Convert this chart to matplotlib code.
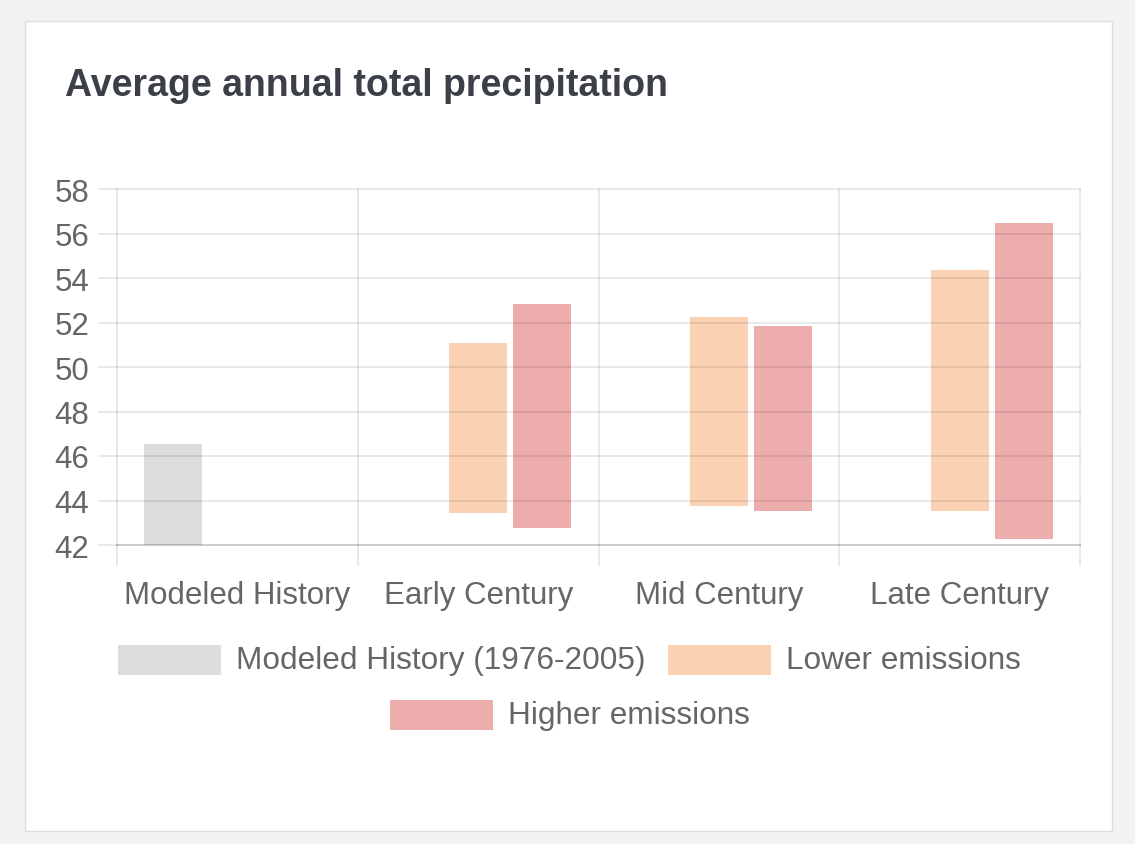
import numpy as np
import matplotlib
matplotlib.use('Agg')
from matplotlib import pyplot as plt
from matplotlib.patches import Rectangle

plt.rcParams['font.family'] = ['Liberation Sans', 'DejaVu Sans']

# data: floating bars (low, high) per period
periods = ['Modeled History', 'Early Century', 'Mid Century', 'Late Century']
history_low = [41.0, None, None, None]
history_high = [46.55, None, None, None]
lower_low = [None, 43.45, 43.75, 43.55]
lower_high = [None, 51.1, 52.25, 54.35]
higher_low = [None, 42.75, 43.55, 42.25]
higher_high = [None, 52.85, 51.85, 56.45]
yticks = [42, 44, 46, 48, 50, 52, 54, 56, 58]

series = [
    ('Modeled History (1976-2005)', history_low, history_high, (0.86, 0.865, 0.875)),
    ('Lower emissions', lower_low, lower_high, (0.98, 0.825, 0.70)),
    ('Higher emissions', higher_low, higher_high, (0.93, 0.68, 0.68)),
]

W, H = 1135, 845
fig = plt.figure(figsize=(W / 100, H / 100), dpi=100)
fig.patch.set_facecolor('#f2f2f2')

# white card behind everything
card = Rectangle((25 / W, 1 - 832 / H), (1112 - 25) / W, (832 - 22) / H,
                 transform=fig.transFigure, facecolor='white',
                 edgecolor='#dddddd', lw=1, zorder=-5)
fig.patches.append(card)

fig.text(65 / W, 1 - 86 / H, 'Average annual total precipitation',
         fontsize=27, fontweight='bold', color='#3b3f47', va='center', ha='left')

ax = fig.add_axes([117 / W, 1 - 546 / H, (1080 - 117) / W, (546 - 190) / H])
ax.set_facecolor('none')

x = np.arange(len(periods))
slot = 64 / 241
width = 58 / 241
for i, (name, lo, hi, col) in enumerate(series):
    xs, bottoms, heights = [], [], []
    for j in range(len(periods)):
        if lo[j] is None:
            continue
        xs.append(x[j] + (i - 1) * slot)
        bottoms.append(lo[j])
        heights.append(hi[j] - lo[j])
    ax.bar(xs, heights, bottom=bottoms, width=width, color=col, zorder=1)

ax.set_xlim(-0.5, len(periods) - 0.5)
ax.set_ylim(42, 58)
ax.set_yticks(yticks)
ax.set_xticks(x)
ax.set_xticklabels(periods)
ax.set_xticks(np.arange(len(periods) + 1) - 0.5, minor=True)

gridc = (0, 0, 0, 0.1)
ax.grid(True, which='major', axis='y', color='k', alpha=0.1, lw=1.2, zorder=2)
ax.grid(True, which='minor', axis='x', color='k', alpha=0.1, lw=1.2, zorder=2)
ax.set_axisbelow(False)
# keep the edge grid lines full width
for gl in ax.get_ygridlines() + ax.xaxis.get_minorticklines():
    gl.set_clip_on(False)
for t in ax.xaxis.get_minor_ticks():
    t.gridline.set_clip_on(False)

# grid lines already frame the plot; only the base line is darker
for s in ['top', 'right', 'left']:
    ax.spines[s].set_visible(False)
ax.spines['bottom'].set_color((0, 0, 0, 0.12))
ax.spines['bottom'].set_linewidth(1.5)

ax.tick_params(axis='y', length=14, width=1.2, color=gridc, pad=6,
               labelsize=22.5, labelcolor='#666666')
ax.tick_params(axis='x', which='major', length=0, pad=25,
               labelsize=22.5, labelcolor='#666666')
ax.tick_params(axis='x', which='minor', length=15, width=1.2, color=gridc)

# legend, laid out by hand
legend_rows = [
    [(118, 661, 0), (668, 661, 1)],
    [(390, 716, 2)],
]
for row in legend_rows:
    for px, py, k in row:
        name, _, _, col = series[k]
        fig.patches.append(Rectangle((px / W, 1 - (py + 15) / H), 103 / W, 30 / H,
                                     transform=fig.transFigure, facecolor=col,
                                     edgecolor='none', zorder=1))
        fig.text((px + 118) / W, 1 - py / H, name, fontsize=22.7,
                 color='#666666', va='center', ha='left')

fig.savefig('out.png', dpi=100, facecolor=fig.get_facecolor())
